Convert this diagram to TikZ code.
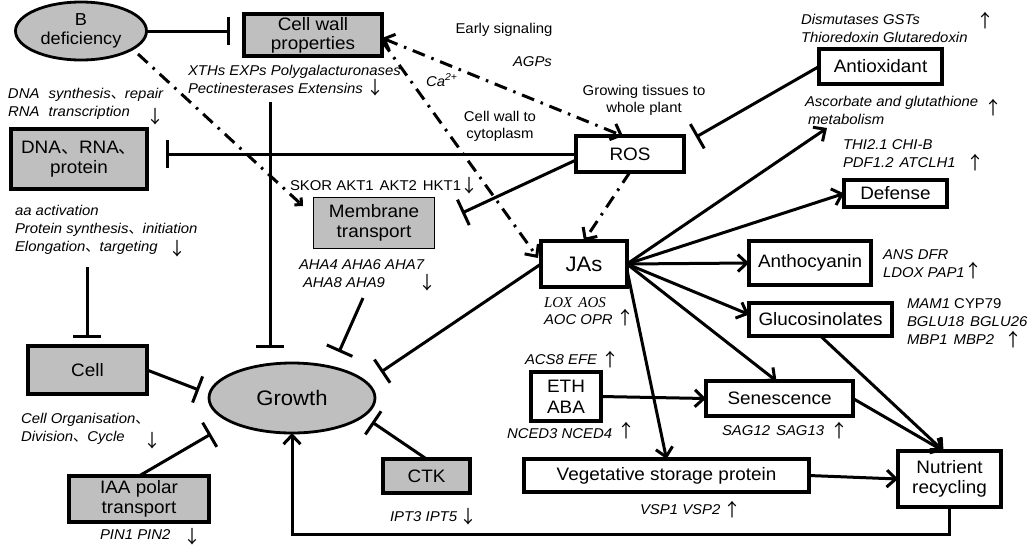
\documentclass[tikz,border=0pt]{standalone}
\usepackage{fontspec}
\setmainfont{Liberation Sans}[FakeStretch=1.05]
\newfontfamily\cjk{Noto Sans CJK SC}
\newfontfamily\tnr{Liberation Serif}
\usetikzlibrary{arrows.meta,shapes.geometric}
\definecolor{boxgray}{RGB}{191,191,191}
\newcommand{\dn}{{\cjk\upshape 、}}
\begin{document}
\begin{tikzpicture}[x=1pt,y=-1pt,
  every node/.style={inner sep=0pt, outer sep=0pt},
  box/.style={draw, line width=3.4pt, fill=white, align=center, font=\fontsize{18}{20}\selectfont},
  gbox/.style={box, fill=boxgray},
  oval/.style={ellipse, draw, line width=2.8pt, fill=boxgray, align=center},
  lab/.style={font=\fontsize{14.2}{18}\selectfont\itshape, align=left, anchor=west},
  ulab/.style={font=\fontsize{14.2}{17}\selectfont, align=center},
  updn/.style={font=\cjk\fontsize{18}{18}\selectfont},
  edge/.style={line width=3pt},
  arr/.style={edge, -{Straight Barb[length=9pt,width=17pt]}},
  inh/.style={edge, -{Bar[width=28pt]}},
  dd/.style={line width=3pt, dash pattern=on 13pt off 7pt on 2.5pt off 7pt},
  ddtip/.style={-{Straight Barb[length=9pt,width=17pt]}},
]
\useasboundingbox (0,0) rectangle (1032,544);

% nodes
\node[oval, minimum width=131pt, minimum height=58pt, font=\fontsize{17.3}{19}\selectfont] (bdef) at (81,31) {B\\deficiency};
\node[gbox, minimum width=138pt, minimum height=42pt, font=\fontsize{18}{19}\selectfont] (cellwall) at (313,35) {Cell wall\\properties};
\node[gbox, minimum width=136pt, minimum height=60pt] (dna) at (79,159) {DNA\dn RNA\dn\\protein};
\node[box, minimum width=108pt, minimum height=36pt] (ros) at (630,154) {ROS};
\node[box, minimum width=123pt, minimum height=35pt] (antiox) at (880.5,66.5) {Antioxidant};
\node[box, minimum width=103pt, minimum height=27pt] (defense) at (895.5,193.5) {Defense};
\node[box, minimum width=122pt, minimum height=44pt] (antho) at (810,263) {Anthocyanin};
\node[box, minimum width=143pt, minimum height=33pt] (gluco) at (820.5,319.5) {Glucosinolates};
\node[box, minimum width=86pt, minimum height=46pt, font=\fontsize{21}{22}\selectfont] (jas) at (584,264) {JAs};
\node[box, minimum width=70pt, minimum height=49pt, font=\fontsize{18}{21}\selectfont] (eth) at (566,396.5) {ETH\\ABA};
\node[box, minimum width=147pt, minimum height=35pt] (senes) at (779.5,398.5) {Senescence};
\node[box, minimum width=285pt, minimum height=33pt] (veg) at (666.5,475.5) {Vegetative storage protein};
\node[box, minimum width=103pt, minimum height=56pt] (nutr) at (949.5,479) {Nutrient\\recycling};
\node[oval, minimum width=166pt, minimum height=70pt, font=\fontsize{21}{22}\selectfont] (growth) at (292,398) {Growth};
\node[gbox, minimum width=119pt, minimum height=48pt] (cell) at (87.5,370) {Cell};
\node[gbox, minimum width=140pt, minimum height=46pt] (iaa) at (139,499) {IAA polar\\transport};
\node[gbox, minimum width=87pt, minimum height=34pt] (ctk) at (426.5,476) {CTK};
\node[gbox, line width=1.4pt, minimum width=121pt, minimum height=51pt] (membr) at (374,223) {Membrane\\transport};

% labels
\node[lab] (l1) at (188,79) {XTHs EXPs Polygalacturonases\\Pectinesterases Extensins};
\node[updn] (a1) at (375,88) {↓};
\node[lab] (l2) at (8,104) {DNA\hspace{5pt} synthesis\dn repair\\RNA\hspace{5pt} transcription};
\node[updn] (a2) at (155,117) {↓};
\node[lab] (l3) at (15,230) {aa activation\\Protein synthesis\dn initiation\\Elongation\dn targeting};
\node[updn] (a3) at (177,249) {↓};
\node[lab] (l4) at (21,429) {Cell Organisation\dn\\Division\dn Cycle};
\node[updn] (a4) at (152,441) {↓};
\node[lab] (l5) at (100,535) {PIN1 PIN2};
\node[updn] (a5) at (192,537) {↓};
\node[lab] (l6) at (390,517) {IPT3 IPT5};
\node[updn] (a6) at (468,517) {↓};
\node[lab, font=\fontsize{14.2}{17}\selectfont] (l7) at (290,186) {SKOR AKT1\hspace{6pt}AKT2\hspace{6pt}HKT1};
\node[updn] (a7) at (469,186) {↓};
\node[lab] (l8) at (299,273.5) {AHA4 AHA6 AHA7\\\hspace{4pt}AHA8 AHA9};
\node[updn] (a8) at (427,283) {↓};
\node[ulab] (l9) at (504,30) {Early signaling};
\node[lab] (l10) at (513,62) {AGPs};
\node[lab] (l11) at (426,80) {Ca\textsuperscript{2+}};
\node[ulab] (l12) at (500,126) {Cell wall to\\cytoplasm};
\node[ulab] (l13) at (644,100) {Growing tissues to\\whole plant};
\node[lab] (l14) at (801,28) {Dismutases GSTs\\Thioredoxin Glutaredoxin};
\node[updn] (a9) at (985,21) {↑};
\node[lab] (l15) at (805,110) {Ascorbate and glutathione\\\hspace{3pt}metabolism};
\node[updn] (a10) at (993,108) {↑};
\node[lab] (l16) at (843,154) {THI2.1 CHI-B\\PDF1.2\hspace{6pt}ATCLH1};
\node[updn] (a11) at (975,163) {↑};
\node[lab] (l17) at (883,263.5) {ANS DFR\\LDOX PAP1};
\node[updn] (a12) at (973,271) {↑};
\node[lab] (l18) at (907,321.5) {MAM1 {\upshape CYP79}\\BGLU18\hspace{6pt}BGLU26\\MBP1\hspace{6pt}MBP2};
\node[updn] (a13) at (1013,340) {↑};
\node[lab, font=\tnr\itshape\fontsize{15}{17}\selectfont] (l19a) at (544,303) {LOX\hspace{6pt}AOS};
\node[lab] (l19b) at (544,320) {AOC OPR};
\node[updn] (a14) at (625,318) {↑};
\node[lab] (l20) at (525,360) {ACS8 EFE};
\node[updn] (a15) at (610,360) {↑};
\node[lab] (l21) at (507,434) {NCED3 NCED4};
\node[updn] (a16) at (626,431) {↑};
\node[lab] (l22) at (722,431) {SAG12\hspace{6pt}SAG13};
\node[updn] (a17) at (839,431) {↑};
\node[lab] (l23) at (640,510) {VSP1 VSP2};
\node[updn] (a18) at (732,510) {↑};

% inhibitor connectors
\draw[inh, shorten >=14pt] (bdef.east) -- (bdef.east -| cellwall.west);
\draw[inh, shorten >=19pt] (ros.west) -- (ros.west -| dna.east);
\coordinate (ar) at (696,137);
\draw[inh] (antiox.west) -- (ar);
\coordinate (rm) at (462,213);
\draw[inh] ([yshift=-6pt]ros.west) -- (rm);
\coordinate (dc) at (87,267);
\draw[inh, shorten >=8pt] (dc) -- (dc |- cell.north);
\coordinate (cg) at (270,102);
\draw[inh, shorten >=15pt] (cg) -- (cg |- growth.north);
\coordinate (mg1) at (363,298);
\coordinate (mg2) at (339,352);
\draw[inh] (mg1) -- (mg2);
\coordinate (jg) at (381,372);
\draw[inh] (jas.west) -- (jg);
\coordinate (clg) at (199,390);
\draw[inh] (cell.east) -- (clg);
\coordinate (ig) at (211,434);
\draw[inh] (iaa.north) -- (ig);
\coordinate (tg) at (372,422);
\draw[inh] (ctk.north) -- (tg);

% arrows
\coordinate (asc) at (827,128);
\draw[arr] (jas.east) -- (asc);
\draw[arr] (jas.east) -- (defense.west);
\draw[arr] (jas.east) -- (antho.west);
\draw[arr] (jas.east) -- ([yshift=5pt]gluco.west);
\draw[arr] (jas.east) -- ([xshift=-3pt]senes.north);
\draw[arr] ([yshift=-6pt]jas.east) -- (veg.north);
\draw[arr] (eth.east) -- (senes.west);
\draw[arr] (senes.east) -- ([xshift=-6pt]nutr.north);
\draw[arr] (gluco.south) -- ([xshift=-6pt]nutr.north);
\draw[arr] (veg.east) -- (nutr.west);
\coordinate (fb) at (949.5,534);
\draw[arr] (nutr.south) -- (fb) -| (growth.south);

% dash-dot connectors
\coordinate (bd1) at (138,54);
\coordinate (bm) at (303,206);
\draw[dd, -{Straight Barb[length=5pt,width=10pt]}] (bd1) -- (bm);
\draw[dd, {Straight Barb[length=9pt,width=17pt]}-{Straight Barb[length=9pt,width=17pt]}] ([yshift=-3pt]cellwall.east) -- ([xshift=-7pt]ros.north);
\coordinate (cj) at (538,258);
\draw[dd, ddtip] ([yshift=-6pt]cellwall.east) -- (cj);
\draw[dd, ddtip] (ros.south) -- (jas.north);
\end{tikzpicture}
\end{document}
